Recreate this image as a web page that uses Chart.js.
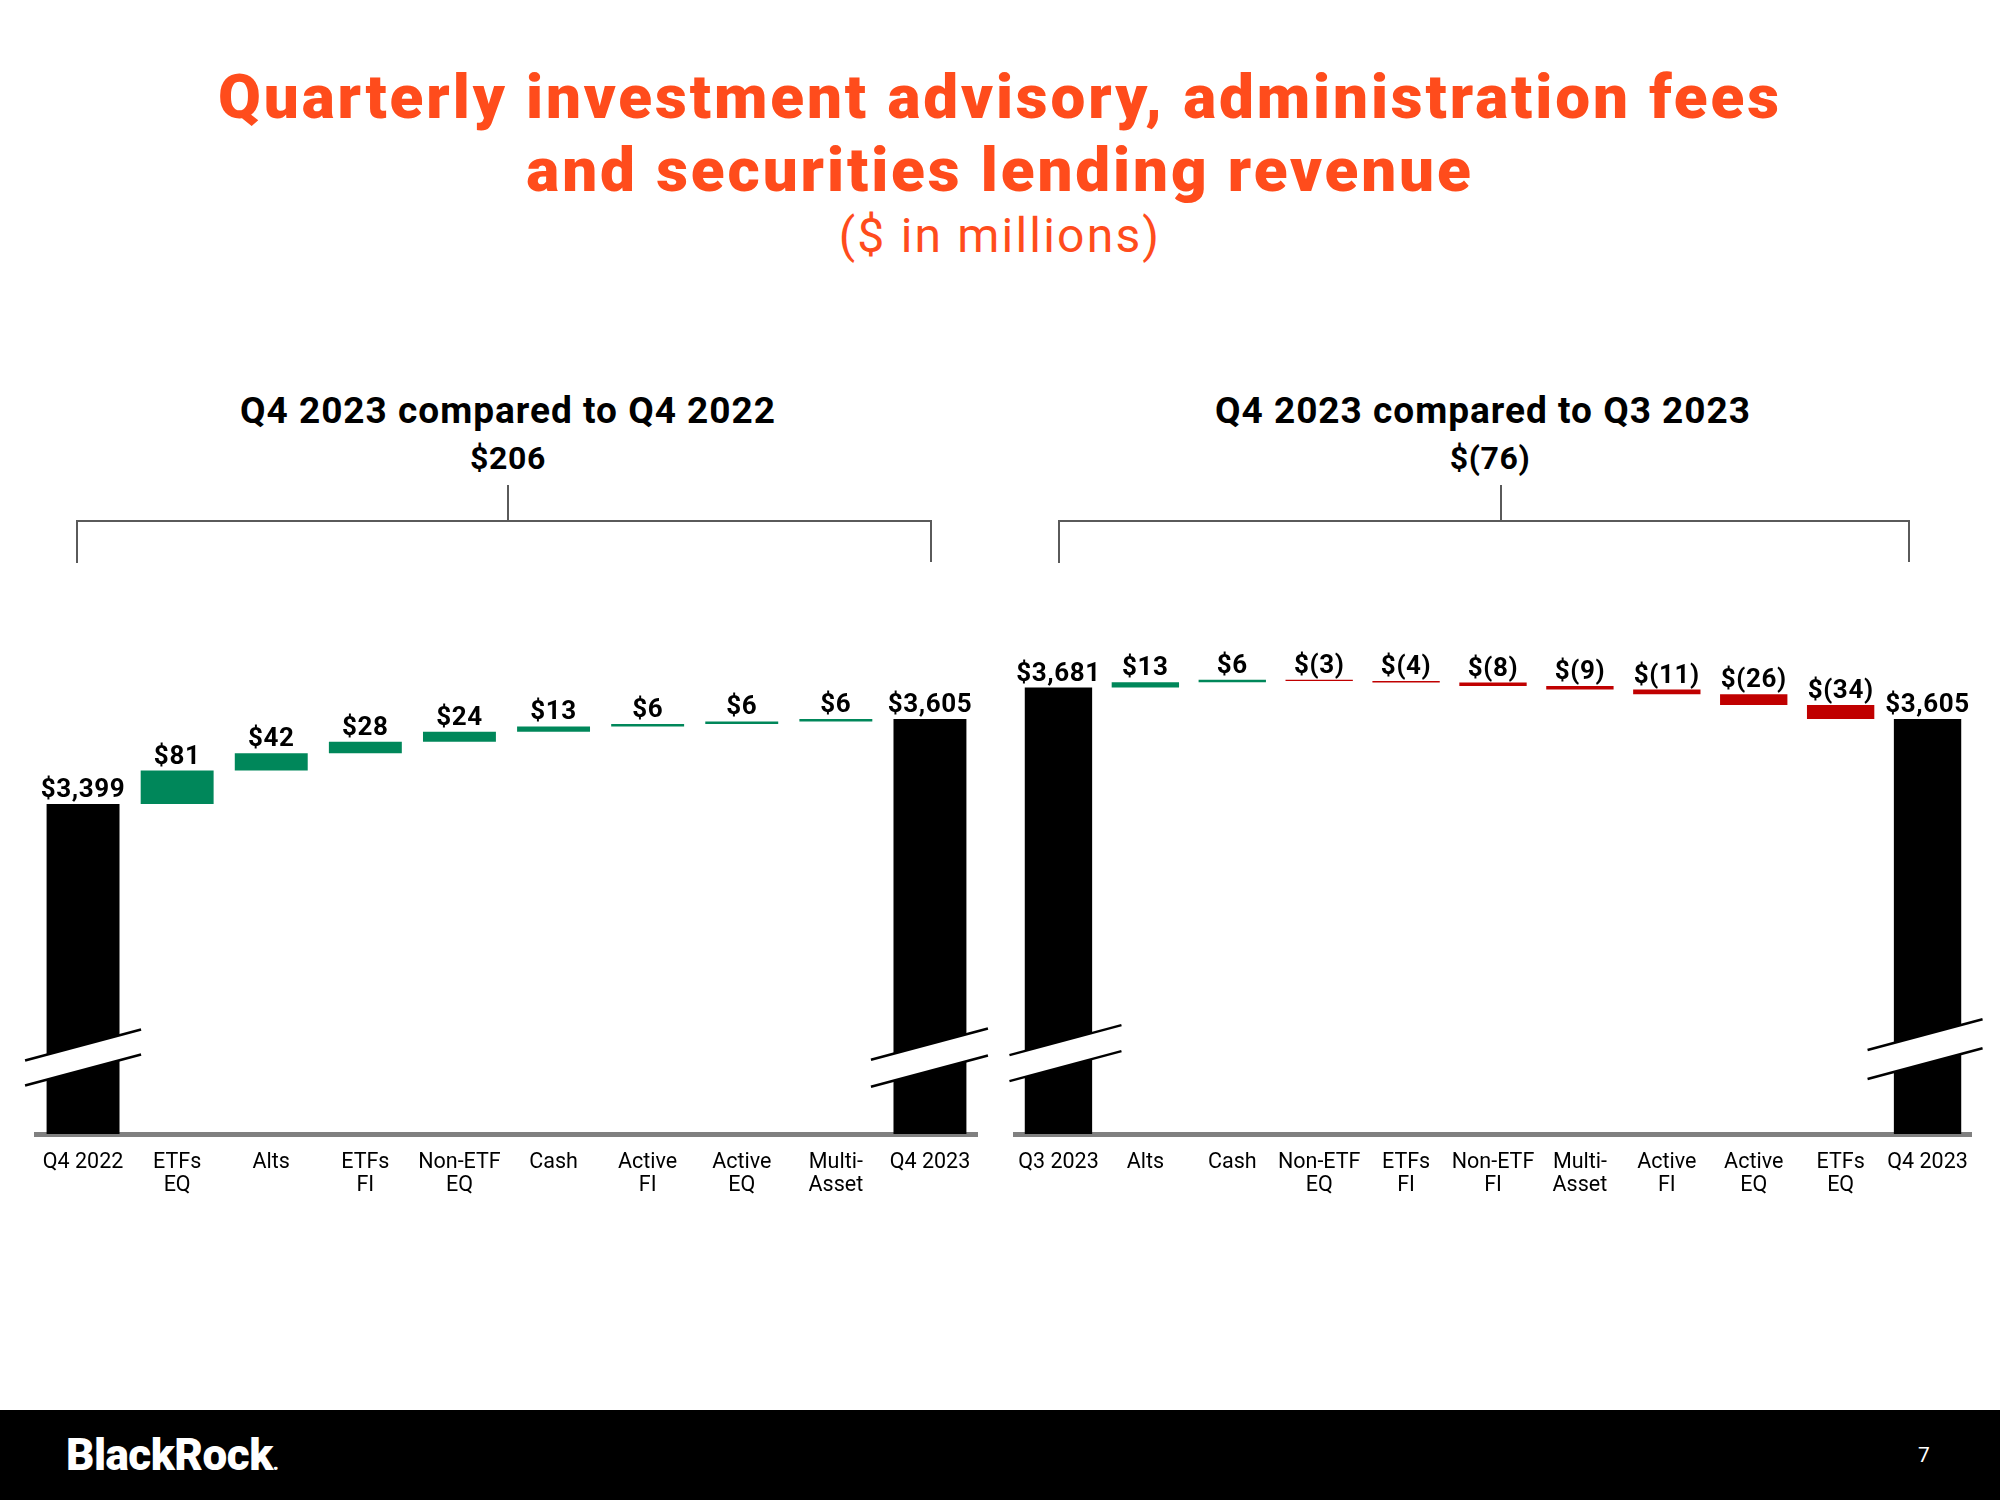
<!DOCTYPE html>
<html><head><meta charset="utf-8">
<script src="https://cdn.jsdelivr.net/npm/chart.js@4.4.1/dist/chart.umd.min.js"></script>
<style>
html,body{margin:0;padding:0;background:#fff;}
#page{position:relative;width:2000px;height:1500px;overflow:hidden;font-family:Roboto,"Liberation Sans",sans-serif;background:#fff;}
.t{position:absolute;text-align:center;line-height:1;white-space:nowrap;}
.title{left:0;width:2000px;color:#ff4c1c;font-weight:900;font-size:62px;letter-spacing:2.9px;}
.sub{color:#ff4c1c;font-weight:400;font-size:48px;left:0;width:2000px;letter-spacing:2.2px;}
.h2{font-weight:700;font-size:37px;color:#000;width:900px;letter-spacing:1px;}
.tot{font-weight:700;font-size:32px;color:#000;width:900px;letter-spacing:0.6px;}
.ln{position:absolute;background:#5a5a5a;}
canvas{position:absolute;}
#footer{position:absolute;left:0;top:1410px;width:2000px;height:90px;background:#000;}
</style></head>
<body><div id="page">
<div class="t title" style="top:66px;">Quarterly investment advisory, administration fees</div>
<div class="t title" style="top:139px;">and securities lending revenue</div>
<div class="t sub" style="top:212px;">($ in millions)</div>

<div class="t h2" style="left:58px;top:392px;">Q4 2023 compared to Q4 2022</div>
<div class="t tot" id="leftTotal" style="left:58px;top:442px;"></div>
<div class="t h2" style="left:1033px;top:392px;">Q4 2023 compared to Q3 2023</div>
<div class="t tot" id="rightTotal" style="left:1040px;top:442px;"></div>

<div class="ln" style="left:76px;top:520px;width:856px;height:2px;"></div>
<div class="ln" style="left:76px;top:520px;width:2px;height:43px;"></div>
<div class="ln" style="left:930px;top:520px;width:2px;height:42px;"></div>
<div class="ln" style="left:507px;top:485px;width:2px;height:36px;"></div>

<div class="ln" style="left:1058px;top:520px;width:852px;height:2px;"></div>
<div class="ln" style="left:1058px;top:520px;width:2px;height:43px;"></div>
<div class="ln" style="left:1908px;top:520px;width:2px;height:42px;"></div>
<div class="ln" style="left:1500px;top:485px;width:2px;height:36px;"></div>

<canvas id="c1" width="1000" height="680" style="left:0;top:560px;width:1000px;height:680px;"></canvas>
<canvas id="c2" width="1000" height="680" style="left:1000px;top:560px;width:1000px;height:680px;"></canvas>

<div id="footer">
  <div class="t" style="left:66px;top:23px;color:#fff;font-weight:900;font-size:44px;letter-spacing:-0.5px;text-align:left;">BlackRock<span style="font-size:20px;">.</span></div>
  <div class="t" style="left:1918px;top:35px;color:#fff;font-weight:400;font-size:21px;">7</div>
</div>
</div>
<script>
// ---- data ----
const leftCategories = ['Q4 2022', ['ETFs','EQ'], 'Alts', ['ETFs','FI'], ['Non-ETF','EQ'], 'Cash', ['Active','FI'], ['Active','EQ'], ['Multi-','Asset'], 'Q4 2023'];
const leftStart = 3399;
const leftChanges = [81, 42, 28, 24, 13, 6, 6, 6];
const leftEnd = 3605;

const rightCategories = ['Q3 2023', 'Alts', 'Cash', ['Non-ETF','EQ'], ['ETFs','FI'], ['Non-ETF','FI'], ['Multi-','Asset'], ['Active','FI'], ['Active','EQ'], ['ETFs','EQ'], 'Q4 2023'];
const rightStart = 3681;
const rightChanges = [13, 6, -3, -4, -8, -9, -11, -26, -34];
const rightEnd = 3605;

const axisMin = 2600;
const axisMax = 3893;

const COL_TOTAL = '#000000', COL_UP = '#00875a', COL_DOWN = '#c00000';

function fmt(v) {
  const s = Math.abs(v).toLocaleString('en-US');
  return v < 0 ? '$(' + s + ')' : '$' + s;
}

function buildWaterfall(start, changes, end) {
  const ranges = [[axisMin, start]];
  const labels = [fmt(start)];
  const colors = [COL_TOTAL];
  let cur = start;
  changes.forEach(c => {
    ranges.push([cur, cur + c]);
    labels.push(fmt(c));
    colors.push(c >= 0 ? COL_UP : COL_DOWN);
    cur += c;
  });
  ranges.push([axisMin, end]);
  labels.push(fmt(end));
  colors.push(COL_TOTAL);
  return {ranges, labels, colors};
}

document.getElementById('leftTotal').textContent = fmt(leftEnd - leftStart);
document.getElementById('rightTotal').textContent = fmt(rightEnd - rightStart);

const valueLabels = {
  id: 'valueLabels',
  afterDatasetsDraw(chart, args, opts) {
    const ctx = chart.ctx;
    const meta = chart.getDatasetMeta(0);
    ctx.save();
    ctx.fillStyle = '#000';
    ctx.font = '700 26px Roboto, "Liberation Sans", sans-serif';
    if ('letterSpacing' in ctx) ctx.letterSpacing = '0.6px';
    ctx.textAlign = 'center';
    ctx.textBaseline = 'alphabetic';
    meta.data.forEach((el, i) => {
      const top = Math.min(el.y, el.base);
      ctx.fillText(opts.labels[i], el.x, top - 7);
    });
    ctx.restore();
  }
};

const breakMarks = {
  id: 'breakMarks',
  afterDatasetsDraw(chart, args, opts) {
    const ctx = chart.ctx;
    const meta = chart.getDatasetMeta(0);
    const bottom = chart.chartArea.bottom;
    const slope = -31 / 116;
    ctx.save();
    opts.marks.forEach(m => {
      const el = meta.data[m.index];
      const cx = el.x;
      const x1 = cx - m.left, x2 = cx + m.right;
      const yU = bottom - m.upper, yL = bottom - m.lower;
      const f = (yc, x) => yc + slope * (x - cx);
      ctx.fillStyle = '#fff';
      ctx.beginPath();
      ctx.moveTo(x1, f(yU, x1));
      ctx.lineTo(x2, f(yU, x2));
      ctx.lineTo(x2, f(yL, x2));
      ctx.lineTo(x1, f(yL, x1));
      ctx.closePath();
      ctx.fill();
      ctx.strokeStyle = '#000';
      ctx.lineWidth = 2.5;
      [yU, yL].forEach(yc => {
        ctx.beginPath();
        ctx.moveTo(x1, f(yc, x1));
        ctx.lineTo(x2, f(yc, x2));
        ctx.stroke();
      });
    });
    ctx.restore();
  }
};

function makeChart(id, categories, wf, padL, padR, marks) {
  return new Chart(document.getElementById(id), {
    type: 'bar',
    data: {
      labels: categories,
      datasets: [{
        data: wf.ranges,
        backgroundColor: wf.colors,
        borderWidth: 0,
        borderSkipped: false,
        barPercentage: 0.775,
        categoryPercentage: 1.0
      }]
    },
    options: {
      responsive: false,
      animation: false,
      events: [],
      layout: {padding: {left: padL, right: padR, top: 40, bottom: 0}},
      plugins: {
        legend: {display: false},
        tooltip: {enabled: false},
        valueLabels: {labels: wf.labels},
        breakMarks: {marks: marks}
      },
      scales: {
        y: {display: false, min: axisMin, max: axisMax},
        x: {
          grid: {display: true, color: 'rgba(0,0,0,0)', drawTicks: false, drawOnChartArea: false},
          border: {display: true, color: '#808080', width: 5},
          ticks: {
            color: '#000',
            padding: 17,
            maxRotation: 0,
            autoSkip: false,
            font: {family: 'Roboto, "Liberation Sans", sans-serif', size: 21.5, lineHeight: 1.08}
          },
          afterFit(axis) { axis.height = 106; }
        }
      }
    },
    plugins: [valueLabels, breakMarks]
  });
}

const wfL = buildWaterfall(leftStart, leftChanges, leftEnd);
const wfR = buildWaterfall(rightStart, rightChanges, rightEnd);
makeChart('c1', leftCategories, wfL, 36, 23, [
  {index: 0, left: 58, right: 58, upper: 89, lower: 64},
  {index: wfL.ranges.length - 1, left: 59, right: 58, upper: 90, lower: 63}
]);
makeChart('c2', rightCategories, wfR, 15, 29, [
  {index: 0, left: 49, right: 63, upper: 92, lower: 66},
  {index: wfR.ranges.length - 1, left: 60, right: 55, upper: 100, lower: 71}
]);
</script>
</body></html>
